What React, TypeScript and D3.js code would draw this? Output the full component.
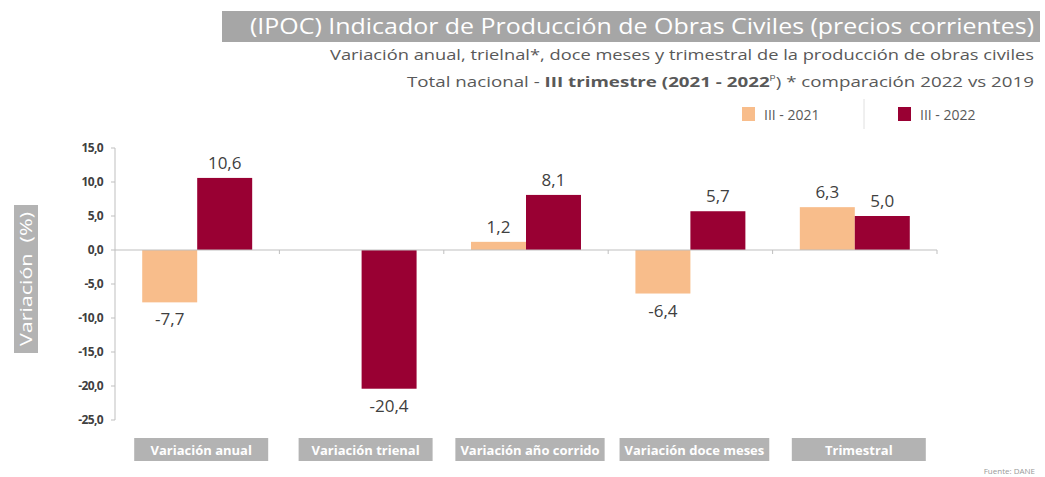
import React, { useEffect, useRef } from "react";
import * as d3 from "d3";

const categories = ["Variación anual", "Variación trienal", "Variación año corrido", "Variación doce meses", "Trimestral"];
const series2021: (number | null)[] = [-7.7, null, 1.2, -6.4, 6.3];
const series2022: (number | null)[] = [10.6, -20.4, 8.1, 5.7, 5.0];
const seriesNames = ["III - 2021", "III - 2022"];
const yTicks = [15, 10, 5, 0, -5, -10, -15, -20, -25];

const COLORS = ["#F8BD8B", "#990033"];
const FONT = "'Open Sans', 'DejaVu Sans', sans-serif";

export default function App() {
  const ref = useRef<SVGSVGElement>(null);
  useEffect(() => {
    const svg = d3.select(ref.current);
    svg.selectAll("*").remove();
    const fmt = (v: number) => d3.format(".1f")(v).replace(".", ",").replace("−", "-");

    const y = d3.scaleLinear().domain([-25, 15]).range([420, 148]);
    const x0 = d3.scaleBand<string>().domain(categories).range([115, 937]).paddingInner(0).paddingOuter(0);
    const x1 = d3.scaleBand<number>().domain([0, 1]).range([0, x0.bandwidth()]).paddingOuter(0.495).paddingInner(0);

    // Title
    svg.append("rect").attr("x", 222).attr("y", 11).attr("width", 818).attr("height", 31).attr("fill", "#a6a6a6");
    svg.append("text").attr("x", 1034).attr("y", 34).attr("text-anchor", "end")
      .attr("font-family", FONT).attr("font-size", 22).attr("fill", "#fff")
      .attr("textLength", 784).attr("lengthAdjust", "spacingAndGlyphs")
      .text("(IPOC) Indicador de Producción de Obras Civiles (precios corrientes)");
    svg.append("text").attr("x", 1034).attr("y", 60).attr("text-anchor", "end")
      .attr("font-family", FONT).attr("font-size", 15).attr("fill", "#595959")
      .attr("textLength", 704).attr("lengthAdjust", "spacingAndGlyphs")
      .text("Variación anual, trielnal*, doce meses y trimestral de la producción de obras civiles");
    const t2 = svg.append("text").attr("x", 1034).attr("y", 87).attr("text-anchor", "end")
      .attr("font-family", FONT).attr("font-size", 15).attr("fill", "#595959")
      .attr("textLength", 627).attr("lengthAdjust", "spacingAndGlyphs");
    t2.append("tspan").text("Total nacional - ");
    t2.append("tspan").attr("font-weight", "bold").text("III trimestre (2021 - 2022");
    t2.append("tspan").attr("font-size", 8).attr("dy", -8).text("p");
    t2.append("tspan").attr("dy", 8).text(") * comparación 2022 vs 2019");

    // Legend
    const legX = [742, 898];
    seriesNames.forEach((n, i) => {
      svg.append("rect").attr("x", legX[i]).attr("y", 107).attr("width", 13).attr("height", 14).attr("fill", COLORS[i]);
      svg.append("text").attr("x", legX[i] + 22).attr("y", 120).attr("font-family", FONT).attr("font-size", 14)
        .attr("fill", "#595959").text(n);
    });
    svg.append("line").attr("x1", 864).attr("x2", 864).attr("y1", 99).attr("y2", 129).attr("stroke", "#e0e0e0");

    // Y axis
    svg.append("line").attr("x1", 115).attr("x2", 115).attr("y1", y(15)).attr("y2", y(-25)).attr("stroke", "#bfbfbf");
    yTicks.forEach((t) => {
      svg.append("line").attr("x1", 111).attr("x2", 115).attr("y1", y(t)).attr("y2", y(t)).attr("stroke", "#bfbfbf");
      svg.append("text").attr("x", 103).attr("y", y(t) + 4).attr("text-anchor", "end")
        .attr("font-family", FONT).attr("font-size", 12).attr("font-weight", "bold").attr("fill", "#404040")
        .attr("letter-spacing", -0.6).text(fmt(t));
    });

    // Y title
    svg.append("rect").attr("x", 14).attr("y", 205).attr("width", 24).attr("height", 148).attr("fill", "#b3b3b3");
    svg.append("text").attr("transform", `translate(32,279) rotate(-90)`).attr("text-anchor", "middle")
      .attr("font-family", FONT).attr("font-size", 17).attr("fill", "#fff").attr("xml:space", "preserve")
      .attr("textLength", 134).attr("lengthAdjust", "spacingAndGlyphs")
      .text("Variación  (%)");

    // Bars
    const all = [series2021, series2022];
    all.forEach((s, si) => {
      s.forEach((v, ci) => {
        if (v === null) return;
        const bx = (x0(categories[ci]) as number) + (x1(si) as number);
        const w = x1.bandwidth();
        svg.append("rect").attr("x", bx).attr("width", w)
          .attr("y", Math.min(y(v), y(0))).attr("height", Math.abs(y(v) - y(0))).attr("fill", COLORS[si]);
        svg.append("text").attr("x", bx + w / 2).attr("y", v >= 0 ? y(v) - 9 : y(v) + 23)
          .attr("text-anchor", "middle").attr("font-family", FONT).attr("font-size", 17)
          .attr("fill", "#404040").text(fmt(v));
      });
    });

    // Zero line + category ticks
    svg.append("line").attr("x1", 115).attr("x2", 937).attr("y1", y(0)).attr("y2", y(0)).attr("stroke", "#bfbfbf");
    categories.forEach((c) => {
      const xe = (x0(c) as number) + x0.bandwidth();
      svg.append("line").attr("x1", xe).attr("x2", xe).attr("y1", y(0)).attr("y2", y(0) + 4).attr("stroke", "#bfbfbf");
    });

    // Category label boxes
    categories.forEach((c) => {
      const cx = (x0(c) as number) + x0.bandwidth() / 2 + 4;
      const g = svg.append("g");
      const txt = g.append("text").attr("x", cx).attr("y", 455).attr("text-anchor", "middle")
        .attr("font-family", FONT).attr("font-size", 13).attr("font-weight", "bold").attr("fill", "#fff").text(c);
      const tl = (txt.node() as SVGTextElement).getComputedTextLength();
      const bw = Math.max(134, Math.min(tl + 10, 160));
      if (tl + 4 > bw) txt.attr("textLength", bw - 4).attr("lengthAdjust", "spacingAndGlyphs");
      g.insert("rect", "text").attr("x", cx - bw / 2).attr("y", 438).attr("width", bw).attr("height", 23).attr("fill", "#b3b3b3");
    });

    svg.append("text").attr("x", 1035).attr("y", 474).attr("text-anchor", "end").attr("font-family", FONT)
      .attr("font-size", 8).attr("fill", "#999").text("Fuente: DANE");
  }, []);
  return (
    <svg ref={ref} width={1045} height={477} style={{ position: "absolute", left: 0, top: 0, background: "#fff" }} />
  );
}
